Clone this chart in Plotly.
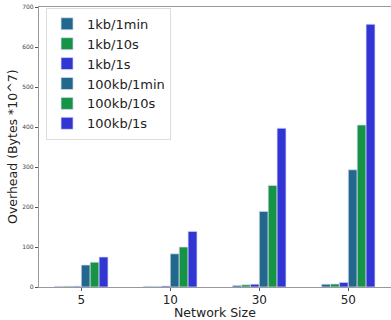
import plotly.graph_objects as go

categories = ["5", "10", "30", "50"]
series_names = ["1kb/1min", "1kb/10s", "1kb/1s", "100kb/1min", "100kb/10s", "100kb/1s"]
kb1_1min = [1.5, 1.5, 4, 7]
kb1_10s = [2, 1.5, 5.5, 7.5]
kb1_1s = [2, 2.5, 7, 11.5]
kb100_1min = [55, 83, 189, 293]
kb100_10s = [62, 100, 254, 405]
kb100_1s = [75, 139, 397, 657]
y_ticks = [0, 100, 200, 300, 400, 500, 600, 700]

values = [kb1_1min, kb1_10s, kb1_1s, kb100_1min, kb100_10s, kb100_1s]
colors = ["#21688c", "#169446", "#3035d3", "#21688c", "#169446", "#3035d3"]

fig = go.Figure()
for name, vals, col in zip(series_names, values, colors):
    fig.add_trace(go.Bar(
        x=categories, y=vals, name=name,
        marker=dict(color=col, line=dict(color="rgba(220,220,245,0.9)", width=0.8)),
    ))

fig.update_layout(
    width=391, height=320,
    margin=dict(l=39, r=0, t=7, b=33, autoexpand=False),
    barmode="group", bargap=0.4, bargroupgap=0,
    plot_bgcolor="white", paper_bgcolor="white",
    font=dict(family="DejaVu Sans", color="#222"),
    showlegend=True,
    legend=dict(
        x=0.02, y=0.997, xanchor="left", yanchor="top",
        bgcolor="white", bordercolor="#dddddd", borderwidth=1,
        font=dict(size=13, color="#222"),
        itemwidth=30, tracegroupgap=0,
    ),
    xaxis=dict(
        type="category", range=[-0.475, 3.48],
        showline=True, linecolor="#999", linewidth=1.2, mirror=True,
        ticks="outside", ticklen=3, tickcolor="#555",
        tickfont=dict(size=12, color="#222"), ticklabelstandoff=-2,
        showgrid=False, automargin=False,
    ),
    yaxis=dict(
        range=[0, 700], tickvals=y_ticks,
        showline=True, linecolor="#999", linewidth=1.2,
        ticks="outside", ticklen=3, tickcolor="#555",
        tickfont=dict(size=6, color="#444"),
        showgrid=False, zeroline=False, automargin=False,
    ),
    annotations=[
        dict(text="Network Size", xref="paper", yref="paper", x=0.5, y=0,
             xanchor="center", yanchor="top", yshift=-16, showarrow=False,
             font=dict(size=12.5, color="#222")),
        dict(text="Overhead (Bytes *10^7)", xref="paper", yref="paper",
             x=-0.077, y=0.5, xanchor="center", yanchor="middle", textangle=-90,
             showarrow=False, font=dict(size=12.5, color="#222")),
    ],
)

fig.write_html("out.html", config={"displayModeBar": False},
               post_script="document.body.style.margin='0';")
